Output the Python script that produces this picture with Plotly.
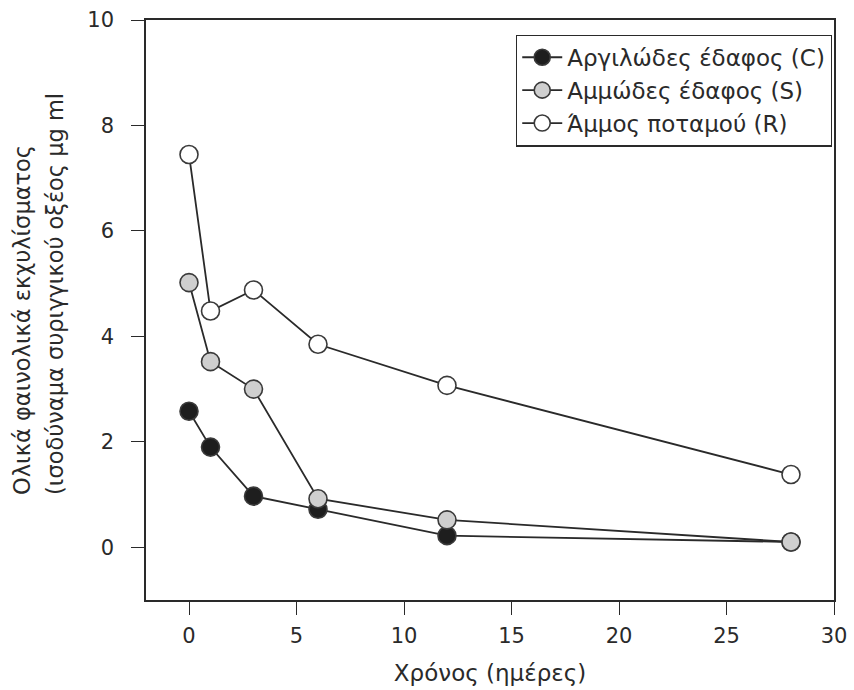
import plotly.graph_objects as go

# Sampling days
days = [0, 1, 3, 6, 12, 28]

# Total phenolics of the extract (syringic acid equivalents, μg/ml)
clay_soil = [2.58, 1.90, 0.97, 0.72, 0.22, 0.10]
sandy_soil = [5.02, 3.52, 3.00, 0.92, 0.52, 0.10]
river_sand = [7.45, 4.48, 4.88, 3.85, 3.07, 1.38]

series_names = ["Αργιλώδες έδαφος (C)", "Αμμώδες έδαφος (S)", "Άμμος ποταμού (R)"]
x_ticks = [0, 5, 10, 15, 20, 25, 30]
y_ticks = [0, 2, 4, 6, 8, 10]

FONT = "DejaVu Sans, Verdana, sans-serif"
INK = "#2a2a2a"

fills = ["#1e1e1e", "#cfcfcf", "#ffffff"]
values = [clay_soil, sandy_soil, river_sand]

fig = go.Figure()
for name, vals, fill in zip(series_names, values, fills):
    fig.add_trace(go.Scatter(
        x=days, y=vals, name=name, mode="lines+markers",
        line=dict(color=INK, width=1.8),
        marker=dict(symbol="circle", size=18, color=fill,
                    line=dict(color="#3a3a3a", width=1.6)),
    ))

axis_common = dict(
    showline=True, linecolor=INK, linewidth=1.5, mirror=True,
    ticks="outside", ticklen=13, tickwidth=1.3, tickcolor=INK,
    showgrid=False, zeroline=False, automargin=False,
    tickfont=dict(family=FONT, size=21, color=INK),
)

fig.update_layout(
    width=854, height=690,
    paper_bgcolor="white", plot_bgcolor="white",
    margin=dict(l=146, r=20, t=20, b=90),
    font=dict(family=FONT, color=INK),
    xaxis=dict(range=[-2, 30], tickvals=x_ticks, ticklabelstandoff=3,
               **axis_common,
               title=dict(text="Χρόνος (ημέρες)", standoff=18,
                          font=dict(family=FONT, size=23, color=INK))),
    yaxis=dict(range=[-1, 10], tickvals=y_ticks, ticklabelstandoff=13,
               **axis_common),
    legend=dict(
        x=0.997, y=0.975, xanchor="right", yanchor="top",
        bgcolor="white", bordercolor=INK, borderwidth=1.3,
        font=dict(family=FONT, size=23, color=INK),
        itemwidth=40, tracegroupgap=0,
    ),
    showlegend=True,
)

# Two-line y-axis title, both lines starting from the same baseline point
fig.add_annotation(text="Ολικά φαινολικά εκχυλίσματος", textangle=-90,
                   xref="paper", yref="paper", x=-0.180, y=0.178,
                   showarrow=False, xanchor="center", yanchor="bottom",
                   font=dict(family=FONT, size=22.5, color=INK))
fig.add_annotation(text="(ισοδύναμα συριγγικού οξέος μg ml", textangle=-90,
                   xref="paper", yref="paper", x=-0.132, y=0.178,
                   showarrow=False, xanchor="center", yanchor="bottom",
                   font=dict(family=FONT, size=22.5, color=INK))

fig.write_html("out.html")
